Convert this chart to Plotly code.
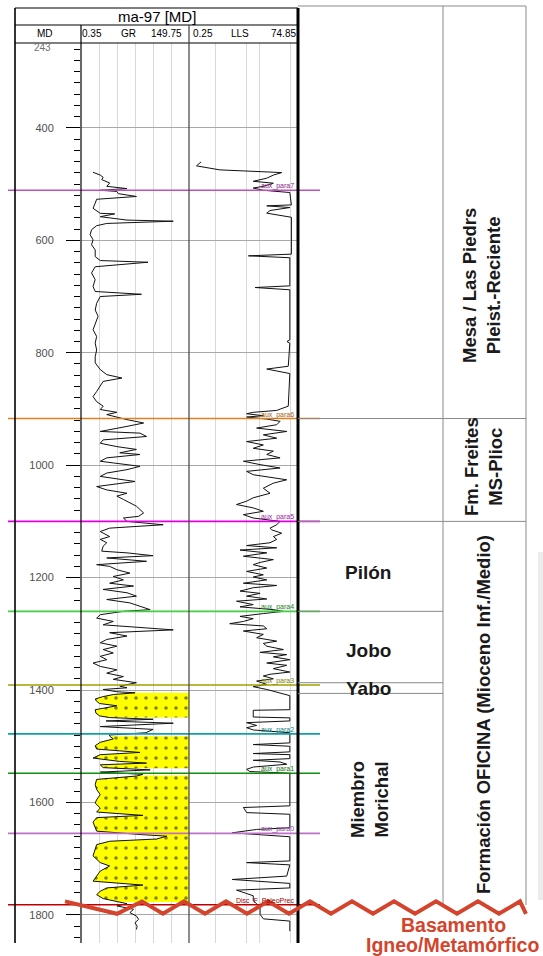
import numpy as np
import plotly.graph_objects as go

# ---------------- data ----------------
gr_depth = [479, 484, 488, 492, 498, 504, 508, 511, 513, 517, 522, 527, 534, 543, 552, 553, 558, 564, 566, 570,
            574, 581, 590, 599, 608, 617, 629, 636, 639, 644, 647, 658, 670, 682, 691, 696, 700, 712, 724, 735,
            747, 759, 771, 783, 795, 807, 818, 830, 839, 845, 851, 860, 869, 878, 887, 895, 901, 906, 910,
            919, 925, 931, 940, 943, 949, 955, 961, 967, 972, 978, 981, 987, 993, 996, 1002, 1008, 1014, 1020,
            1029, 1038, 1044, 1050, 1055, 1061, 1067, 1073, 1079, 1085, 1091, 1094, 1100, 1106,
            1112, 1118, 1127, 1132, 1138, 1144, 1153, 1156, 1161, 1165, 1171, 1177, 1180, 1186, 1192, 1198, 1204,
            1210, 1215, 1221, 1227, 1233, 1239, 1245, 1251, 1257, 1260, 1266, 1272, 1278, 1284, 1287, 1293, 1298,
            1304, 1310, 1316, 1322, 1328, 1334, 1340, 1346, 1352, 1358, 1364, 1370, 1376, 1381, 1387, 1393, 1396,
            1399, 1403,
            1405, 1408, 1412, 1416, 1420, 1424, 1428, 1431, 1435, 1441, 1446, 1449, 1452, 1455, 1459, 1465, 1470,
            1476, 1480,
            1482, 1487, 1493, 1499, 1505, 1511, 1515, 1521, 1527, 1530, 1533, 1538, 1542, 1546, 1550,
            1553, 1559, 1568, 1577, 1586, 1595, 1601, 1610, 1617, 1623, 1627, 1635, 1643, 1651, 1657, 1660, 1665,
            1669, 1675, 1684, 1695, 1707, 1713, 1722, 1731, 1740, 1747, 1752, 1758, 1764, 1771, 1776,
            1780, 1784, 1790, 1796, 1802, 1808, 1814, 1820, 1826]
gr_value = [17, 27, 31, 29, 40, 36, 64, 27, 50, 52, 77, 22, 20, 17, 27, 47, 27, 64, 128, 36,
            22, 15, 13, 17, 15, 20, 20, 27, 93, 40, 20, 15, 20, 17, 20, 84, 27, 22, 20, 24,
            20, 17, 22, 20, 22, 20, 20, 27, 36, 57, 31, 27, 22, 17, 22, 31, 27, 50, 36,
            64, 87, 64, 27, 82, 91, 31, 27, 50, 77, 54, 82, 36, 27, 45, 82, 64, 36, 27,
            75, 22, 36, 64, 50, 59, 68, 77, 82, 87, 80, 59, 64, 114,
            40, 27, 40, 27, 36, 31, 29, 64, 100, 36, 91, 22, 40, 50, 68, 45, 59,
            40, 73, 31, 64, 77, 36, 68, 82, 96, 59, 27, 22, 45, 31, 68, 128, 40,
            64, 36, 27, 50, 31, 45, 27, 36, 17, 27, 50, 36, 59, 45, 77, 54, 64,
            31, 50,
            75, 45, 30, 20, 22, 26, 50, 35, 20, 21, 26, 40, 100, 35, 128, 27, 100,
            90, 40,
            40, 45, 27, 20, 22, 82, 27, 17, 54, 91, 27, 31, 96, 27, 86,
            77, 22, 20, 22, 27, 22, 20, 27, 22, 86, 22, 17, 20, 22, 82, 119, 105,
            40, 22, 20, 17, 27, 40, 27, 22, 17, 86, 36, 27, 22, 31, 50,
            64, 50, 73, 68, 77, 80, 75, 78, 77]

lls_depth = [460.5, 467.6, 474.7, 476.5, 479.5, 484, 489.5, 495, 498.4, 504, 507, 511, 515, 537, 538.7, 541.7,
             547, 551.7, 556.5, 559, 624.6, 627.6, 631, 681, 684, 688, 777, 780, 783, 824, 829, 833, 837, 895,
             902.6, 906, 908.5, 912, 914.4, 918, 922, 928, 934, 940, 946, 952, 958, 964, 970, 975, 981, 987,
             993, 999, 1005, 1011, 1017, 1026, 1032, 1041, 1050, 1058, 1064, 1070, 1076, 1082, 1088, 1094, 1100,
             1106, 1112, 1115, 1121, 1127, 1132, 1138, 1143, 1147, 1151, 1156, 1162, 1168, 1173, 1177, 1183,
             1189, 1195, 1199, 1204, 1210, 1214, 1218, 1224, 1228, 1233, 1238, 1242, 1248, 1252, 1257, 1260,
             1264, 1269, 1273, 1278, 1282, 1286, 1291, 1295, 1301, 1307, 1313, 1317, 1322, 1328, 1333, 1337,
             1341, 1346, 1352, 1356, 1362, 1368, 1372, 1375, 1380, 1384, 1390, 1394, 1399, 1405, 1410, 1435,
             1436, 1448, 1449.5, 1455, 1458, 1463, 1467, 1471, 1476, 1494, 1497, 1500, 1510, 1513, 1515, 1522,
             1525, 1528, 1532, 1537, 1541, 1545, 1548, 1606, 1609, 1618, 1621, 1645, 1648, 1654, 1657, 1661,
             1704, 1707, 1711, 1731, 1737, 1744, 1752, 1756, 1762, 1766, 1775, 1780, 1787, 1799, 1807, 1811,
             1829]
lls_value = [0.47, 0.37, 1.26, 5.6, 31.9, 20.6, 14.6, 7.2, 20.6, 12.2, 7.2, 12.2, 48.8, 53, 14.6, 48.8,
             17.3, 14.6, 34.9, 53, 53, 5.6, 48.8, 48.8, 7.9, 48.8, 48.8, 42, 48.8, 45, 14.6, 24.6, 48.8, 45,
             24.6, 7.2, 5.1, 12.2, 5.1, 14.6, 29.3, 24.6, 8.6, 41.5, 12.2, 24.6, 5.1, 12.2, 7.2, 20.6, 14.6, 29.3,
             4.3, 10.3, 29.3, 5.1, 7.2, 41.5, 20.6, 12.2, 17.3, 7.2, 5.1, 3.0, 7.2, 12.2, 4.3, 7.2, 29.3,
             24.6, 17.3, 18.8, 31.9, 20.6, 24.6, 17.3, 5.1, 24.6, 3.6, 14.6, 4.3, 20.6, 10.3, 7.2, 14.6,
             5.1, 12.2, 7.2, 14.6, 4.3, 24.6, 7.2, 3.6, 10.3, 5.1, 14.6, 3.0, 7.2, 3.6, 20.6, 34.9,
             12.2, 3.6, 7.2, 4.3, 2.1, 12.2, 14.6, 4.3, 12.2, 8.6, 24.6, 12.2, 14.6, 34.9, 10.3, 41.5,
             20.6, 48.8, 14.6, 41.5, 20.6, 48.8, 17.3, 12.2, 20.6, 8.6, 14.6, 7.2, 14.6, 29.3, 48.8, 48.8,
             7.2, 7.2, 48.8, 48.8, 5.1, 8.6, 5.1, 7.2, 48.8, 48.8, 7.2, 48.8, 48.8, 7.2, 48.8, 48.8,
             7.2, 29.3, 41.5, 7.2, 5.1, 6.0, 48.8, 48.8, 4.3, 5.1, 48.8, 48.8, 8.6, 2.4, 7.2, 48.8,
             48.8, 5.1, 48.8, 41.5, 2.4, 48.8, 48.8, 3.0, 5.1, 7.2, 7.2, 8.6, 10.3, 10.3, 12.2, 48.8,
             48.8]

sand_top = [1405, 1482, 1552]
sand_base = [1449, 1539, 1777]

top_names = ["aux_para7", "aux_para6", "aux_para5", "aux_para4", "aux_para3",
             "aux_para2", "aux_para1", "aux_para0", "Disc_F_PaleoPrec"]
top_depths = [511, 917, 1100, 1260, 1391, 1478, 1548, 1655, 1782]
top_colors = ["#c050c0", "#e08020", "#e000e0", "#40d040", "#a0a000",
              "#10a0a8", "#109010", "#c070c8", "#c00000"]
top_label_colors = ["#8a1a8a", "#a06020", "#a020a0", "#208020", "#808000",
                    "#108080", "#107010", "#9040a0", "#a00000"]

strat_bounds = [917, 1100, 1260, 1387, 1406]

GR_MIN, GR_MAX = 0.35, 149.75
LLS_MIN, LLS_MAX = 0.25, 74.85
D_TOP, D_BOT = 249, 1850

# ---------------- layout helpers ----------------
W, H = 543, 956
FONT = "Liberation Sans, Arial, sans-serif"


def px(x):
    return x / W


def py(y):
    return 1 - y / H


fig = go.Figure()

# sand fill polygons built from the GR curve
gd = np.array(gr_depth, dtype=float)
gv = np.array(gr_value, dtype=float)
for t, b in zip(sand_top, sand_base):
    m = (gd > t) & (gd < b)
    dd = np.concatenate([[t], gd[m], [b]])
    vv = np.concatenate([[np.interp(t, gd, gv)], gv[m], [np.interp(b, gd, gv)]])
    poly_x = list(vv) + [GR_MAX, GR_MAX, vv[0]]
    poly_y = list(dd) + [b, t, t]
    fig.add_trace(go.Scatter(
        x=poly_x, y=poly_y, mode="lines", fill="toself",
        fillcolor="#ffff00",
        fillpattern=dict(shape=".", fgcolor="#000000", bgcolor="#ffff00", size=10, solidity=0.1),
        line=dict(width=0), xaxis="x", yaxis="y", hoverinfo="skip", showlegend=False))

fig.add_trace(go.Scatter(x=gr_value, y=gr_depth, mode="lines",
                         line=dict(color="#111111", width=1), xaxis="x", yaxis="y",
                         showlegend=False))
fig.add_trace(go.Scatter(x=lls_value, y=lls_depth, mode="lines",
                         line=dict(color="#111111", width=1), xaxis="x2", yaxis="y",
                         showlegend=False))

shapes = []
# formation tops
for d, c in zip(top_depths, top_colors):
    shapes.append(dict(type="line", xref="paper", yref="y", x0=px(8), x1=px(320), y0=d, y1=d,
                       line=dict(color=c, width=1.6)))

# log frame
def pline(x0, y0, x1, y1, color="#000000", width=1):
    shapes.append(dict(type="line", xref="paper", yref="paper", x0=px(x0), x1=px(x1),
                       y0=py(y0), y1=py(y1), line=dict(color=color, width=width)))


pline(15, 8, 15, 943, width=1.6)
pline(298, 8, 298, 943, width=3)
pline(15, 8, 298, 8, width=1.2)
pline(15, 25, 298, 25, width=1.2)
pline(15, 43, 298, 43, width=1.2)
pline(81, 25, 81, 943, width=1.2)
pline(189, 25, 189, 943, color="#404040", width=1.2)

# stratigraphic column
GRAY = "#8a8a8a"
pline(298, 6, 526, 6, color=GRAY)
pline(443, 6, 443, 905, color=GRAY)
pline(526, 6, 526, 905, color=GRAY)
for i, d in enumerate(strat_bounds):
    x1 = 526 if i < 2 else 443
    shapes.append(dict(type="line", xref="paper", yref="y", x0=px(298), x1=px(x1), y0=d, y1=d,
                       line=dict(color=GRAY, width=1)))
shapes.append(dict(type="rect", xref="paper", yref="paper", x0=px(538), x1=px(543),
                   y0=py(900), y1=py(552), fillcolor="#ececec", line=dict(width=0), layer="below"))

# unconformity zigzag
zx = [65, 117] + list(range(142, 540, 21))
zx = [x for x in zx if x <= 526] + [526]
up_d, dn_d = 1776, 1798
path = ""
for i, x in enumerate(zx):
    d = up_d if i % 2 == 0 else dn_d
    path += ("M" if i == 0 else " L") + f"{px(x):.5f},{d}"
shapes.append(dict(type="path", xref="paper", yref="y", path=path,
                   line=dict(color="#d4442c", width=4)))

annotations = []


def ann(text, x, y, size, color="#000000", angle=0, xanchor="center", yanchor="middle", yref="paper"):
    annotations.append(dict(text=text, x=px(x), y=(py(y) if yref == "paper" else y), xref="paper", yref=yref,
                            showarrow=False, font=dict(family=FONT, size=size, color=color),
                            textangle=angle, xanchor=xanchor, yanchor=yanchor))


ann("ma-97 [MD]", 157, 16.5, 15)
ann("MD", 45, 34, 10)
ann("0.35", 92, 34, 10)
ann("GR", 128, 34, 10)
ann("149.75", 166, 34, 10)
ann("0.25", 203, 34, 10)
ann("LLS", 240, 34, 10)
ann("74.85", 283, 34, 10)
ann("243", 42, 47, 10, color="#707070")

for name, d, c in zip(top_names, top_depths, top_label_colors):
    annotations.append(dict(text=name, x=px(296), y=d, xref="paper", yref="y", showarrow=False,
                            font=dict(family=FONT, size=7, color=c), xanchor="right", yanchor="bottom",
                            yshift=-2))

ann("<b>Mesa / Las Piedrs<br>Pleist.-Reciente</b>", 482, 286, 18.5, color="#1a1a1a", angle=-90)
ann("<b>Fm. Freites<br>MS-Plioc</b>", 483, 467, 18.5, color="#1a1a1a", angle=-90)
ann("<b>Formación OFICINA (Mioceno Inf./Medio)</b>", 483, 715, 18.5, color="#1a1a1a", angle=-90)
ann("<b>Pilón</b>", 368, 572, 19, color="#1a1a1a")
ann("<b>Jobo</b>", 368, 650, 19, color="#1a1a1a")
ann("<b>Yabo</b>", 368, 688, 19, color="#1a1a1a")
ann("<b>Miembro<br>Morichal</b>", 369, 800, 18.5, color="#1a1a1a", angle=-90)
ann("<b>Basamento</b>", 453, 925, 19.5, color="#d4442c")
ann("<b>Igneo/Metamórfico</b>", 452, 945, 19.5, color="#d4442c")

fig.update_layout(
    width=W, height=H, margin=dict(l=0, r=0, t=0, b=0),
    paper_bgcolor="white", plot_bgcolor="white", showlegend=False,
    xaxis=dict(domain=[px(81), px(189)], range=[GR_MIN, GR_MAX], tick0=GR_MIN,
               dtick=(GR_MAX - GR_MIN) / 6, showgrid=True, gridcolor="#d9d9d9", gridwidth=1,
               showticklabels=False, ticks="", zeroline=False, showline=False, anchor="y"),
    xaxis2=dict(domain=[px(189), px(298)], type="log", range=[np.log10(LLS_MIN), np.log10(LLS_MAX)],
                tickvals=[1, 5, 10, 50], showgrid=True, gridcolor="#d9d9d9", gridwidth=1,
                showticklabels=False, ticks="", zeroline=False, showline=False, anchor="y"),
    yaxis=dict(domain=[py(943), py(43)], range=[D_BOT, D_TOP], anchor="x",
               tick0=0, dtick=200, ticks="outside", ticklen=14, tickcolor="#000000", tickwidth=1,
               ticklabelstandoff=10,
               minor=dict(dtick=20, tick0=0, ticks="outside", ticklen=6, tickcolor="#000000", showgrid=False),
               showgrid=True, gridcolor="#a8a8a8", gridwidth=1, zeroline=False, showline=False,
               tickfont=dict(family=FONT, size=11, color="#505050")),
    shapes=shapes, annotations=annotations,
)

fig.write_html("out.html", config={"displayModeBar": False},
               post_script="document.body.style.margin='0';document.body.style.padding='0';"
                           "document.documentElement.style.overflow='hidden';")
